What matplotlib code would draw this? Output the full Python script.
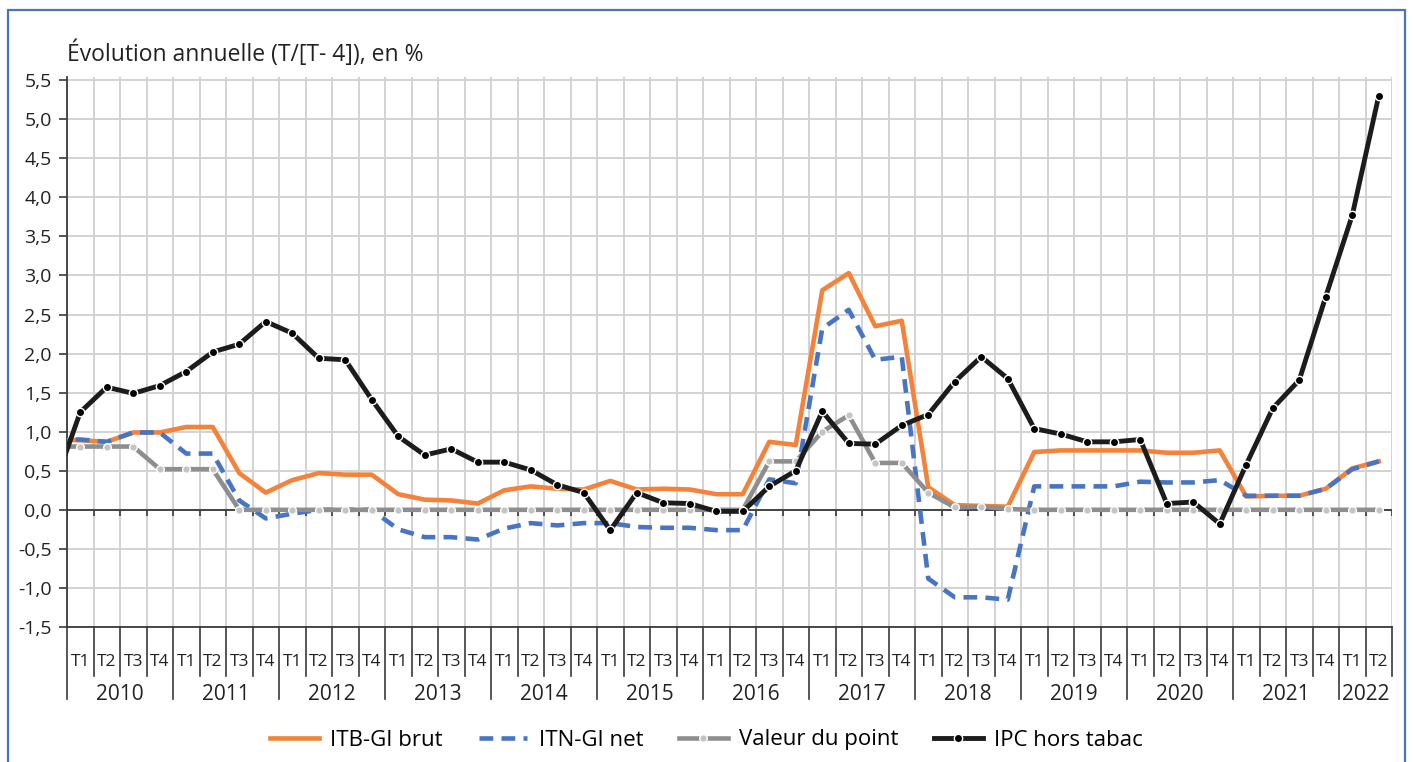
import matplotlib
matplotlib.use("Agg")
import matplotlib.pyplot as plt
from matplotlib.lines import Line2D
from matplotlib.patches import Rectangle
import numpy as np

plt.rcParams["font.family"] = ["Open Sans", "DejaVu Sans"]

# quarters 2010 T1 .. 2022 T2 (first value = 2009 T4, clipped at the left edge)
years = ["2010", "2011", "2012", "2013", "2014", "2015", "2016",
         "2017", "2018", "2019", "2020", "2021", "2022"]
quarters = ["T1", "T2", "T3", "T4"]

itb_brut = [0.90,
            0.89, 0.87, 0.99, 0.99, 1.06, 1.06, 0.47, 0.22,
            0.38, 0.47, 0.45, 0.45, 0.20, 0.13, 0.12, 0.08,
            0.25, 0.30, 0.27, 0.26, 0.37, 0.26, 0.27, 0.26,
            0.20, 0.20, 0.87, 0.83, 2.81, 3.03, 2.35, 2.42,
            0.29, 0.06, 0.05, 0.04, 0.74, 0.76, 0.76, 0.76,
            0.76, 0.73, 0.73, 0.76, 0.17, 0.18, 0.18, 0.27,
            0.53, 0.62]
itn_net = [0.90,
           0.90, 0.87, 0.99, 0.99, 0.72, 0.72, 0.12, -0.11,
           -0.05, 0.0, 0.0, 0.0, -0.25, -0.35, -0.35, -0.38,
           -0.24, -0.17, -0.20, -0.17, -0.17, -0.22, -0.23, -0.23,
           -0.26, -0.26, 0.39, 0.34, 2.32, 2.56, 1.92, 1.96,
           -0.88, -1.12, -1.12, -1.15, 0.30, 0.30, 0.30, 0.30,
           0.36, 0.35, 0.35, 0.38, 0.18, 0.18, 0.18, 0.27,
           0.52, 0.62]
valeur_point = [0.81,
                0.81, 0.81, 0.81, 0.52, 0.52, 0.52, 0.0, 0.0,
                0.0, 0.0, 0.0, 0.0, 0.0, 0.0, 0.0, 0.0,
                0.0, 0.0, 0.0, 0.0, 0.0, 0.0, 0.0, 0.0,
                0.0, 0.0, 0.62, 0.62, 1.00, 1.21, 0.60, 0.60,
                0.22, 0.03, 0.04, 0.01, 0.0, 0.0, 0.0, 0.0,
                0.0, 0.0, 0.0, 0.0, 0.0, 0.0, 0.0, 0.0,
                0.0, 0.0]
ipc_hors_tabac = [0.29,
                  1.25, 1.57, 1.49, 1.59, 1.77, 2.02, 2.12, 2.41,
                  2.26, 1.94, 1.92, 1.41, 0.94, 0.70, 0.78, 0.61,
                  0.61, 0.51, 0.32, 0.22, -0.26, 0.22, 0.09, 0.08,
                  -0.02, -0.02, 0.30, 0.50, 1.26, 0.85, 0.84, 1.08,
                  1.22, 1.64, 1.96, 1.68, 1.04, 0.97, 0.87, 0.87,
                  0.90, 0.08, 0.10, -0.18, 0.58, 1.30, 1.66, 2.73,
                  3.77, 5.30]

n = len(ipc_hors_tabac) - 1
x = np.arange(-1, n)
qlabels = [quarters[i % 4] for i in range(n)]

W, H = 1413, 762
fig = plt.figure(figsize=(W / 100, H / 100), dpi=100)
ax = fig.add_axes([67 / W, 1 - 627 / H, (1392 - 67) / W, (627 - 77) / H])

ax.set_xlim(-0.5, n - 0.5)
ax.set_ylim(-1.5, 5.54)

# grid
for b in np.arange(-0.5, n, 1.0):
    ax.axvline(b, color="#d2d2d2", lw=1.4, zorder=0)
for yv in np.arange(-1.5, 5.51, 0.5):
    ax.axhline(yv, color="#d2d2d2", lw=1.4, zorder=0)

ax.axhline(0, color="#3a3a3a", lw=1.3, zorder=1)
ax.vlines(np.arange(-0.5, n, 1.0), -0.08, 0, color="#3a3a3a", lw=1.2, zorder=1)

orange = "#F4823A"
blue = "#4874C4"
gray = "#8E8E8E"
black = "#1c1c1c"

ax.plot(x, itb_brut, color=orange, lw=3.3, zorder=3)
ax.plot(x, itn_net, color=blue, lw=3.3, dashes=(3.0, 1.8), zorder=4)
ax.plot(x, valeur_point, color=gray, lw=3.3, zorder=5,
        marker="o", ms=5.5, mfc="#c4c4c4", mec="white", mew=1.0)
ax.plot(x, ipc_hors_tabac, color=black, lw=3.5, zorder=6,
        marker="o", ms=6, mfc="black", mec="white", mew=1.0)

# axes styling
for s in ["top", "right"]:
    ax.spines[s].set_visible(False)
ax.spines["left"].set_color("#3a3a3a")
ax.spines["left"].set_linewidth(1.3)
ax.spines["bottom"].set_color("#3a3a3a")
ax.spines["bottom"].set_linewidth(1.3)

yt = np.arange(-1.5, 5.51, 0.5)
ax.set_yticks(yt)
ax.set_yticklabels([f"{v:.1f}".replace(".", ",") for v in yt])
ax.tick_params(axis="y", length=6, width=1.2, color="#3a3a3a", pad=5,
               labelsize=14, labelcolor="#222222")
ax.set_xticks([])

# multi-level category axis
tr = ax.get_xaxis_transform()
for i, q in enumerate(qlabels):
    ax.text(i, -0.064, q, transform=tr, ha="center", va="center",
            fontsize=12.5, color="#222222", clip_on=False)
for b in range(n + 1):
    long = (b % 4 == 0) and b < n
    ax.plot([b - 0.5, b - 0.5], [0, -0.131 if long else -0.089], transform=tr,
            color="#3a3a3a", lw=1.2, clip_on=False)
for k, yr in enumerate(years):
    start = 4 * k
    end = min(4 * k + 4, n)
    ax.text((start + end - 1) / 2, -0.122, yr, transform=tr, ha="center",
            va="center", fontsize=15, color="#222222", clip_on=False)

fig.text(67 / W, 1 - 54 / H, "Évolution annuelle (T/[T- 4]), en %",
         fontsize=16.5, color="#222222", va="center", ha="left")

handles = [
    Line2D([], [], color=orange, lw=3.3),
    Line2D([], [], color=blue, lw=3.3, dashes=(3.0, 1.8)),
    Line2D([], [], color=gray, lw=3.3, marker="o", ms=5.5, mfc="#c4c4c4",
           mec="white", mew=1.0),
    Line2D([], [], color=black, lw=3.5, marker="o", ms=6, mfc="black",
           mec="white", mew=1.0),
]
labels = ["ITB-GI brut", "ITN-GI net", "Valeur du point", "IPC hors tabac"]
fig.legend(handles, labels, loc="center", bbox_to_anchor=(0.5, 1 - 740 / H),
           ncol=4, frameon=False, fontsize=16, handlelength=2.2,
           columnspacing=1.6, handletextpad=0.5, markerscale=1)

fig.patches.append(Rectangle((8 / W, -0.05), (1405 - 8) / W, 1.05 - 10 / H,
                             transform=fig.transFigure, fill=False,
                             edgecolor="#4a72c2", lw=1.6))

fig.savefig("out.png", dpi=100)
